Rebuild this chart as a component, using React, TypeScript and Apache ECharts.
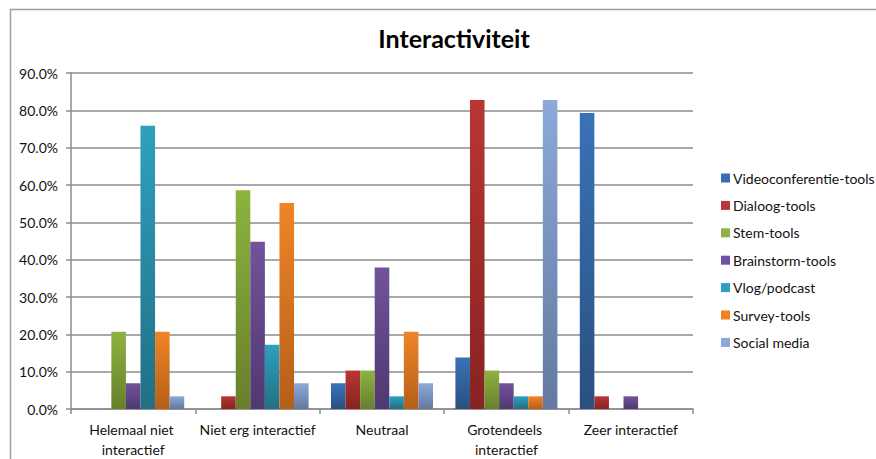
import React, { useEffect, useRef } from "react";
import * as echarts from "echarts";

const categories = [
  "Helemaal niet interactief",
  "Niet erg interactief",
  "Neutraal",
  "Grotendeels interactief",
  "Zeer interactief",
];
const seriesNames = [
  "Videoconferentie-tools",
  "Dialoog-tools",
  "Stem-tools",
  "Brainstorm-tools",
  "Vlog/podcast",
  "Survey-tools",
  "Social media",
];
const videoconferentie = [0, 0, 6.9, 13.8, 79.3];
const dialoog = [0, 3.4, 10.3, 82.8, 3.4];
const stem = [20.7, 58.6, 10.3, 10.3, 0];
const brainstorm = [6.9, 44.8, 37.9, 6.9, 3.4];
const vlog = [75.9, 17.2, 3.4, 3.4, 0];
const survey = [20.7, 55.2, 20.7, 3.4, 0];
const social = [3.4, 6.9, 6.9, 82.8, 0];
const seriesValues = [videoconferentie, dialoog, stem, brainstorm, vlog, survey, social];

const topColors = ["#3a72b8", "#b93633", "#8db33f", "#72539b", "#2fa0be", "#f08527", "#8ca9d9"];
const bottomColors = ["#29507f", "#862321", "#687f2c", "#503870", "#216f84", "#b45f1a", "#6379a0"];
const legendColors = ["#3a6cb0", "#b8383a", "#8fb04a", "#7050a0", "#2f9fc0", "#f08020", "#8aa8d8"];

const FONT = "Lato, 'Open Sans', sans-serif";

export default function App() {
  const ref = useRef<HTMLDivElement>(null);
  useEffect(() => {
    if (!ref.current) return;
    const chart = echarts.init(ref.current, null, { renderer: "svg" });
    chart.setOption({
      animation: false,
      backgroundColor: "#ffffff",
      textStyle: { fontFamily: FONT },
      title: {
        text: "Interactiviteit",
        left: 449,
        textAlign: "center",
        top: 20,
        textStyle: { fontFamily: FONT, fontSize: 25, fontWeight: "bold", color: "#000" },
      },
      graphic: [
        {
          type: "rect",
          shape: { x: 10.5, y: 9.5, width: 900, height: 500 },
          style: { fill: "none", stroke: "#a0a0a0", lineWidth: 1.5 },
          silent: true,
        },
      ],
      legend: {
        orient: "vertical",
        left: 716,
        top: 165,
        itemWidth: 9,
        itemHeight: 9,
        itemGap: 11.4,
        icon: "rect",
        data: seriesNames.map((n, i) => ({ name: n, itemStyle: { color: legendColors[i] } })),
        textStyle: { fontFamily: FONT, fontSize: 14, color: "#111", padding: [0, 0, 0, -2], lineHeight: 16 },
      },
      grid: { left: 71, right: 183, top: 73, bottom: 49.5, containLabel: false },
      xAxis: {
        type: "category",
        data: categories,
        axisLine: { lineStyle: { color: "#8c8c8c", width: 1.5 } },
        axisTick: { show: true, length: 5, lineStyle: { color: "#8c8c8c", width: 1.5 } },
        axisLabel: {
          fontFamily: FONT,
          fontSize: 14,
          color: "#111",
          width: 122,
          overflow: "break",
          lineHeight: 20,
          margin: 10,
          interval: 0,
        },
      },
      yAxis: {
        type: "value",
        min: 0,
        max: 90,
        interval: 10,
        axisLine: { show: true, lineStyle: { color: "#8c8c8c", width: 1.5 } },
        axisTick: { show: true, length: 5, lineStyle: { color: "#8c8c8c", width: 1.5 } },
        splitLine: { lineStyle: { color: "#8c8c8c", width: 1.5 } },
        axisLabel: {
          fontFamily: FONT,
          fontSize: 14,
          color: "#111",
          margin: 13,
          formatter: (v: number) => v.toFixed(1) + "%",
        },
      },
      series: seriesNames.map((name, i) => ({
        name,
        type: "bar",
        data: seriesValues[i],
        barGap: "0%",
        barCategoryGap: "18%",
        itemStyle: {
          color: new echarts.graphic.LinearGradient(0, 0, 0, 1, [
            { offset: 0, color: topColors[i] },
            { offset: 1, color: bottomColors[i] },
          ]),
        },
      })),
    });
    return () => chart.dispose();
  }, []);
  return (
    <div
      ref={ref}
      style={{ position: "fixed", left: 0, top: 0, width: 876, height: 459 }}
    />
  );
}
